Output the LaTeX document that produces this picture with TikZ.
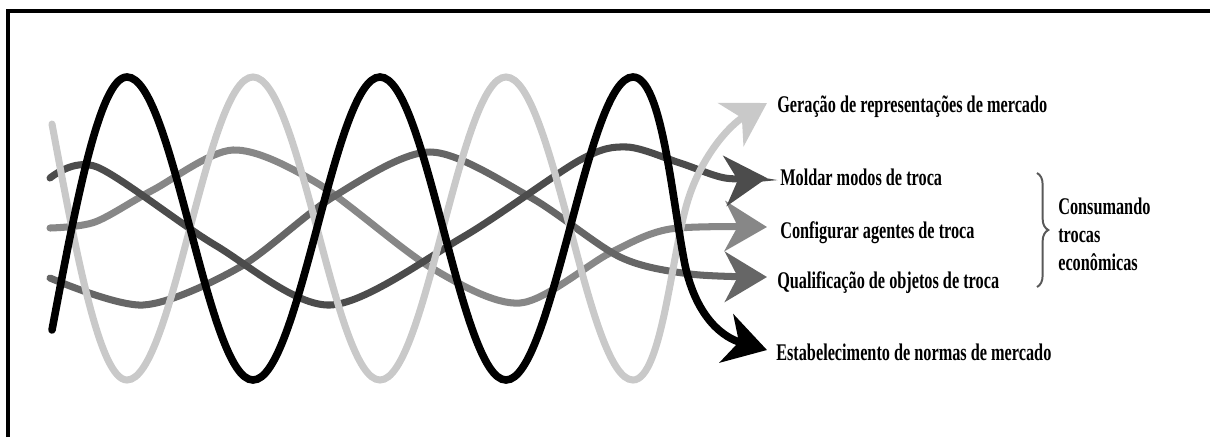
\documentclass[tikz,border=0pt]{standalone}
\usepackage{fontspec}
\newfontfamily\lblfont[FakeStretch=0.68]{Liberation Serif}
\usepackage{xcolor}
\usepackage{tikz}
\usetikzlibrary{arrows.meta,decorations.pathreplacing}

\definecolor{dkgray}{gray}{0.30}
\definecolor{mdgray}{gray}{0.40}
\definecolor{ltgray}{gray}{0.53}
\definecolor{pale}{gray}{0.79}

\begin{document}
\begin{tikzpicture}[
  x=0.025cm, y=-0.025cm,
  font={\lblfont\bfseries\fontsize{17}{20}\selectfont},
  hd/.style={-{Stealth[length=1.05cm,width=1.25cm,inset=0.32cm]}},
  wv/.style={line width=5pt, line cap=round, hd},
  lbl/.style={anchor=base west, inner sep=0pt}
]
  \useasboundingbox (0,0) rectangle (1210,437);
  % frame
  \draw[line width=2.2pt] (8,437) -- (8,11) -- (1210,11);

  % arrow tips
  \coordinate (tG) at (767,103);
  \coordinate (tM) at (767,178);
  \coordinate (tC) at (767,227);
  \coordinate (tQ) at (767,277);
  \coordinate (tE) at (767,350);

  % slow bands
  \draw[wv, ltgray] plot[smooth] coordinates {(50,228) (95,222) (153,190) (233,150) (317,183) (430,267) (520,303) (610,253) (670,229) (tC)};
  \draw[wv, mdgray] plot[smooth] coordinates {(50,278) (143,305) (240,267) (333,197) (430,152) (530,197) (620,257) (690,274) (tQ)};
  \draw[wv, dkgray] plot[smooth] coordinates {(50,178) (97,167) (215,245) (330,305) (463,237) (580,160) (627,147) (680,163) (725,178) (tM)};

  % fast waves
  \draw[wv, pale] (52,124) sin (127,380) cos (190,228) sin (253,77) cos (317,228) sin (380,380)
    cos (443,228) sin (506,77) cos (570,228) sin (633,380)
    .. controls (662,380) and (672,250) .. (688,200) .. controls (702,155) and (730,125) .. (tG);
  \draw[wv, black, line width=5.4pt] (52,330) sin (127,77) cos (190,228) sin (253,380) cos (317,228) sin (380,77)
    cos (443,228) sin (506,380) cos (570,228) sin (633,77)
    .. controls (662,77) and (672,200) .. (685,265) .. controls (697,320) and (725,338) .. (tE);

  % labels
  \node[lbl] (gen) at (777,112) {Geração de representações de mercado};
  \node[lbl] (mol) at (780,185) {Moldar modos de troca};
  \node[lbl] (cfg) at (780,238) {Configurar agentes de troca};
  \node[lbl] (qua) at (777,288) {Qualificação de objetos de troca};
  \node[lbl] (est) at (776,360) {Estabelecimento de normas de mercado};

  \draw[decorate, decoration={brace, amplitude=8pt}, black!65, line width=1.4pt] (1037,173) -- (1037,287);
  \node[anchor=west, inner sep=0pt, align=left] (cons) at (1058,234) {Consumando\\trocas\\econômicas};
\end{tikzpicture}
\end{document}
